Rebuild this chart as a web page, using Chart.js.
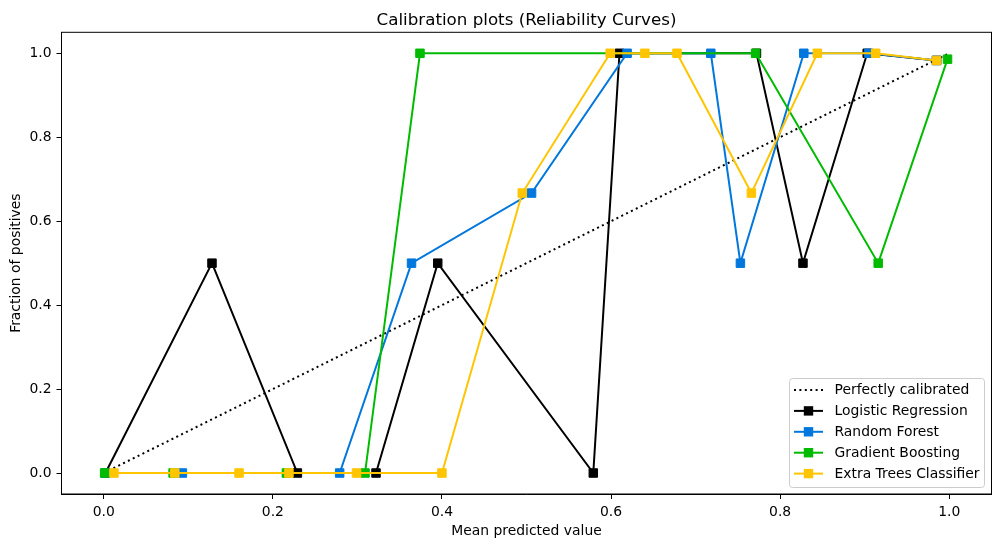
<!DOCTYPE html>
<html>
<head>
<meta charset="utf-8">
<script src="https://cdn.jsdelivr.net/npm/chart.js@4/dist/chart.umd.min.js"></script>
<style>
  html, body { margin: 0; padding: 0; background: #fff; }
  #wrap { width: 1001px; height: 547px; }
</style>
</head>
<body>
<div id="wrap"><canvas id="chart" width="1001" height="547"></canvas></div>
<script>
// calibration curves
const perfectX = [0, 1];
const perfectY = [0, 1];

const logregX = [0.002, 0.128, 0.229, 0.322, 0.395, 0.579, 0.610, 0.772, 0.827, 0.903, 0.985];
const logregY = [0, 0.5, 0, 0, 0.5, 0, 1, 1, 0.5, 1, 0.983];

const forestX = [0.002, 0.093, 0.279, 0.364, 0.506, 0.619, 0.718, 0.753, 0.828, 0.905, 0.985];
const forestY = [0, 0, 0, 0.5, 0.667, 1, 1, 0.5, 1, 1, 0.983];

const boostX = [0.001, 0.082, 0.216, 0.309, 0.374, 0.771, 0.916, 0.998];
const boostY = [0, 0, 0, 0, 1, 1, 0.5, 0.986];

const extraX = [0.012, 0.084, 0.160, 0.219, 0.299, 0.400, 0.495, 0.599, 0.640, 0.678, 0.766, 0.844, 0.913, 0.985];
const extraY = [0, 0, 0, 0, 0, 0, 0.667, 1, 1, 1, 0.667, 1, 1, 0.983];

const tickValues = [0, 0.2, 0.4, 0.6, 0.8, 1.0];

const FONT = '"DejaVu Sans", sans-serif';

function zipPoints(xs, ys) {
	return xs.map((x, i) => ({ x: x, y: ys[i] }));
}

function curve(label, xs, ys, color, order) {
	return {
		label: label,
		data: zipPoints(xs, ys),
		showLine: true,
		borderColor: color,
		backgroundColor: color,
		borderWidth: 2,
		pointStyle: 'rect',
		pointRadius: 6,
		pointBorderWidth: 1,
		pointBorderColor: color,
		pointBackgroundColor: color,
		order: order
	};
}

const datasets = [
	{
		label: 'Perfectly calibrated',
		data: zipPoints(perfectX, perfectY),
		showLine: true,
		borderColor: '#000',
		borderWidth: 2,
		borderDash: [2, 3.4],
		borderCapStyle: 'butt',
		pointRadius: 0,
		order: 5
	},
	curve('Logistic Regression', logregX, logregY, '#000000', 4),
	curve('Random Forest', forestX, forestY, '#0077dd', 3),
	curve('Gradient Boosting', boostX, boostY, '#00bb00', 2),
	curve('Extra Trees Classifier', extraX, extraY, '#ffc500', 1)
];

// matplotlib style frame, title and legend
const decorations = {
	id: 'decorations',
	afterDraw(chart) {
		const { ctx, chartArea: a } = chart;
		ctx.save();
		ctx.strokeStyle = '#000';
		ctx.lineWidth = 1;
		ctx.strokeRect(a.left, a.top, a.right - a.left, a.bottom - a.top);

		ctx.fillStyle = '#000';
		ctx.font = '16.7px ' + FONT;
		ctx.textAlign = 'center';
		ctx.textBaseline = 'alphabetic';
		ctx.fillText('Calibration plots (Reliability Curves)', (a.left + a.right) / 2, 24.5);

		// legend box
		const bx = 789.5, by = 378.5, bw = 195, bh = 109;
		ctx.beginPath();
		ctx.roundRect(bx, by, bw, bh, 3);
		ctx.fillStyle = 'rgba(255,255,255,0.8)';
		ctx.fill();
		ctx.strokeStyle = '#cccccc';
		ctx.stroke();

		ctx.font = '13.9px ' + FONT;
		ctx.textAlign = 'left';
		ctx.textBaseline = 'middle';
		chart.data.datasets.forEach((ds, i) => {
			const y = 390 + i * 20.9;
			ctx.strokeStyle = ds.borderColor;
			ctx.lineWidth = 2;
			ctx.setLineDash(ds.borderDash || []);
			ctx.beginPath();
			ctx.moveTo(794, y);
			ctx.lineTo(823, y);
			ctx.stroke();
			ctx.setLineDash([]);
			if (ds.pointRadius) {
				ctx.fillStyle = ds.backgroundColor;
				ctx.fillRect(808.5 - 4.7, y - 4.7, 9.4, 9.4);
			}
			ctx.fillStyle = '#000';
			ctx.fillText(ds.label, 834.5, y + 0.5);
		});
		ctx.restore();
	}
};

function axisOptions(titleText, fitKey, fitValue) {
	return {
		type: 'linear',
		min: -0.05,
		max: 1.05,
		afterBuildTicks: (scale) => {
			scale.ticks = tickValues.map(v => ({ value: v }));
		},
		afterFit: (scale) => {
			scale[fitKey] = fitValue;
		},
		ticks: {
			color: '#000',
			font: { family: FONT, size: 13.9 },
			padding: 5,
			maxRotation: 0,
			callback: (v) => Number(v).toFixed(1)
		},
		grid: {
			drawOnChartArea: false,
			drawTicks: true,
			tickLength: 5,
			tickWidth: 1,
			tickColor: '#000'
		},
		border: { display: true, color: '#000', width: 1 },
		title: {
			display: true,
			text: titleText,
			color: '#000',
			font: { family: FONT, size: 13.9 },
			padding: { top: 8, bottom: 7 }
		}
	};
}

new Chart(document.getElementById('chart'), {
	type: 'scatter',
	data: { datasets: datasets },
	options: {
		responsive: false,
		animation: false,
		devicePixelRatio: 1,
		layout: { padding: { left: 0, top: 32.3, right: 9.5, bottom: 0 } },
		plugins: {
			legend: { display: false },
			title: { display: false },
			tooltip: { enabled: false }
		},
		scales: {
			x: axisOptions('Mean predicted value', 'height', 53),
			y: axisOptions('Fraction of positives', 'width', 61.5)
		}
	},
	plugins: [decorations]
});
</script>
</body>
</html>
